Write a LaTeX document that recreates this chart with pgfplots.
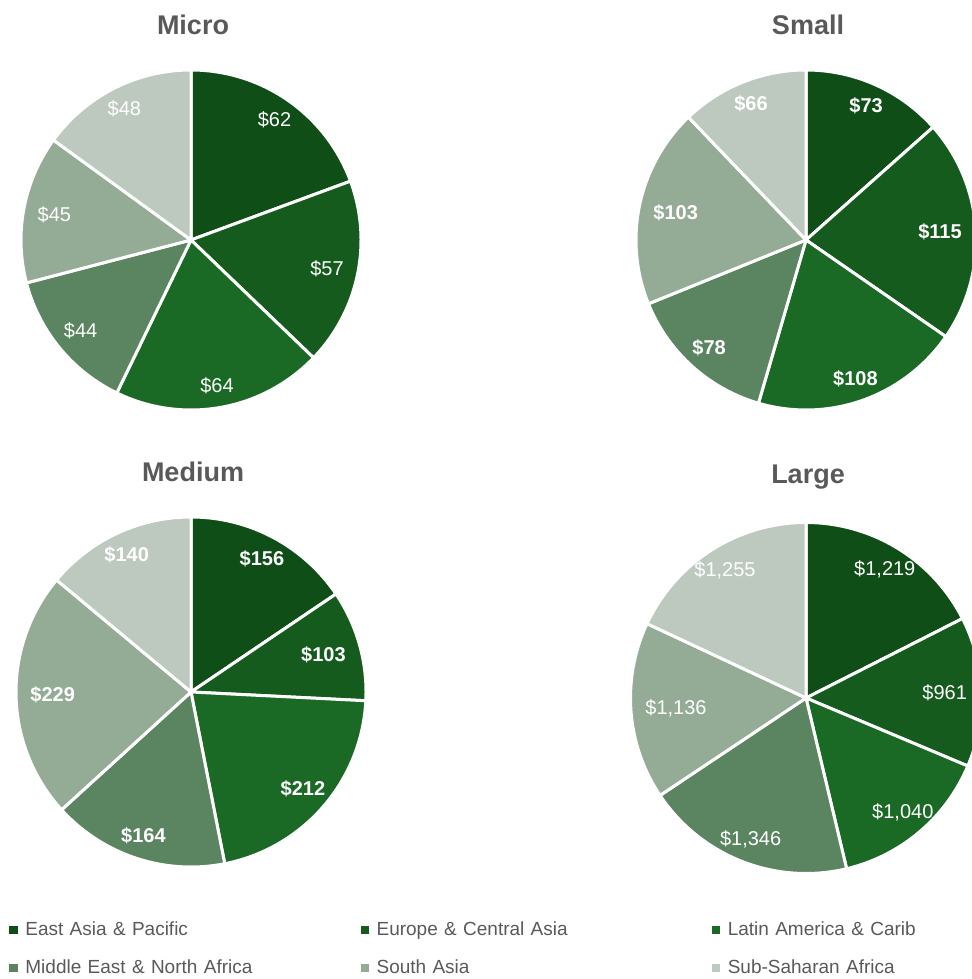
\documentclass[border=0pt]{standalone}
\usepackage{fontspec}
\setmainfont{Liberation Sans}
\usepackage{pgfplots}
\usepackage{pgfplotstable}
\pgfplotsset{compat=1.18}
\definecolor{c0}{HTML}{104E17}
\definecolor{c1}{HTML}{155B1D}
\definecolor{c2}{HTML}{1A6924}
\definecolor{c3}{HTML}{5B8461}
\definecolor{c4}{HTML}{94AB96}
\definecolor{c5}{HTML}{BDC8BF}
\definecolor{txtgray}{HTML}{595959}
\pgfkeys{/pgf/number format/.cd, 1000 sep={,}, assume math mode=true}

\pgfplotstableread{
id micro small medium large
0 62 73 156 1219
1 57 115 103 961
2 64 108 212 1040
3 44 78 164 1346
4 45 103 229 1136
5 48 66 140 1255
}\pietable

\tikzset{
  pielabel/.style={font=\fontsize{10}{12}\selectfont},
  pielabelbold/.style={font=\bfseries\fontsize{10}{12}\selectfont},
  pietitle/.style={font=\bfseries\fontsize{13.5}{16}\selectfont, text=txtgray},
}

% #1 column, #2 cx, #3 cy, #4 radius, #5 label style
\newcommand\drawpie[5]{%
  \gdef\pietotal{0}%
  \foreach \i in {0,...,5}{%
    \pgfplotstablegetelem{\i}{#1}\of\pietable
    \pgfmathsetmacro\tmp{\pietotal+\pgfplotsretval}%
    \xdef\pietotal{\tmp}}%
  \gdef\piecum{0}%
  \foreach \i in {0,...,5}{%
    \pgfplotstablegetelem{\i}{#1}\of\pietable
    \let\val\pgfplotsretval
    \pgfmathsetmacro\astart{90-360*(\piecum/\pietotal)}%
    \pgfmathsetmacro\newcum{\piecum+\val}%
    \pgfmathsetmacro\aend{90-360*(\newcum/\pietotal)}%
    \xdef\piecum{\newcum}%
    \pgfmathsetmacro\amid{(\astart+\aend)/2}%
    \pgfmathsetmacro\lx{#2+0.92*#4*cos(\amid)}%
    \pgfmathsetmacro\ly{#3+0.92*#4*sin(\amid)}%
    \pgfmathsetmacro\anch{mod(\amid+720,360)}%
    \edef\doplot{\noexpand\addplot[forget plot, fill=c\i, draw=white, line width=1.5pt, line join=round, domain=\aend:\astart, samples=90] ({#2+#4*cos(x)},{#3+#4*sin(x)}) -- (axis cs:#2,#3) -- cycle;}%
    \doplot
    \edef\donode{\noexpand\node[#5, anchor=\anch, inner sep=0pt, text=white] at (axis cs:\lx,\ly) {\noexpand\$\noexpand\pgfmathprintnumber{\val}};}%
    \donode
  }}

\begin{document}
\begin{tikzpicture}
\begin{axis}[
  scale only axis, width=486pt, height=489.5pt,
  xmin=0, xmax=972, ymin=0, ymax=979,
  hide axis, clip=false,
  legend columns=3,
  legend image code/.code={\fill[#1] (0pt,-1.8pt) rectangle (3.6pt,1.8pt);},
  legend style={at={(axis cs:9,59)}, anchor=north west, draw=none, fill=none, inner sep=0pt,
    font=\fontsize{9.5}{11}\selectfont, text=txtgray,
    nodes={text width=158pt, align=left, inner sep=0pt, text height=7.5pt, text depth=2pt},
    row sep=9.5pt,
    /tikz/every odd column/.append style={column sep=4pt},
    /tikz/every even column/.append style={column sep=9.6pt}},
  legend cell align=left,
]
\drawpie{micro}{191}{739}{170}{pielabel}
\drawpie{small}{806}{739}{170}{pielabelbold}
\drawpie{medium}{191}{287}{175}{pielabelbold}
\drawpie{large}{806}{281}{175.5}{pielabel}

\node[pietitle] at (axis cs:193,954) {Micro};
\node[pietitle] at (axis cs:808,954) {Small};
\node[pietitle] at (axis cs:193,507) {Medium};
\node[pietitle] at (axis cs:808,502) {Large};

\addlegendimage{color=c0}\addlegendentry{East Asia \& Pacific}
\addlegendimage{color=c1}\addlegendentry{Europe \& Central Asia}
\addlegendimage{color=c2}\addlegendentry{Latin America \& Carib}
\addlegendimage{color=c3}\addlegendentry{Middle East \& North Africa}
\addlegendimage{color=c4}\addlegendentry{South Asia}
\addlegendimage{color=c5}\addlegendentry{Sub-Saharan Africa}
\end{axis}
\pgfresetboundingbox
\useasboundingbox (current axis.south west) rectangle (current axis.north east);
\end{tikzpicture}
\end{document}
